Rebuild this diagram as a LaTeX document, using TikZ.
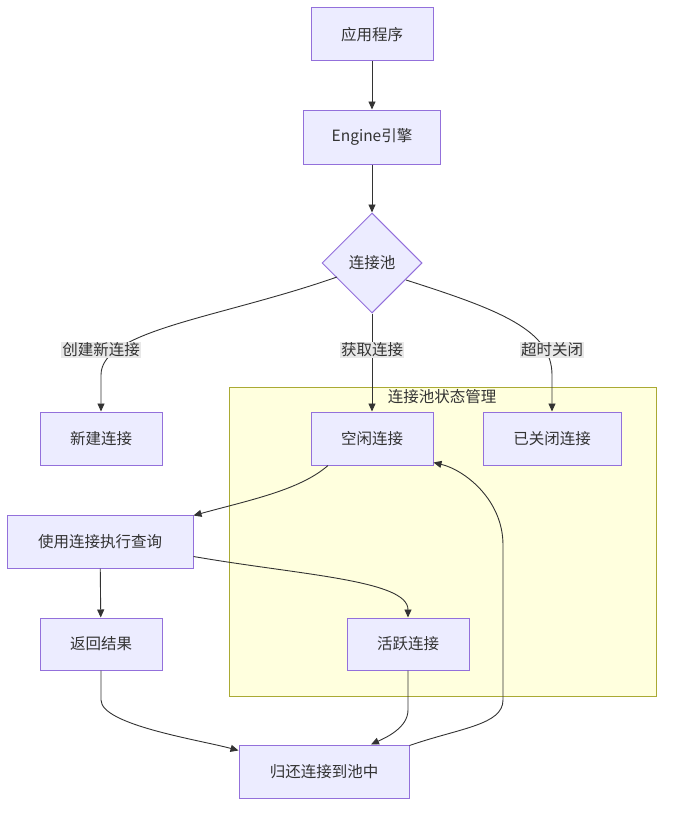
\documentclass[tikz,border=0pt]{standalone}
\usepackage{fontspec}
\setmainfont{Noto Sans CJK SC}
\usetikzlibrary{arrows.meta,shapes.geometric}
\definecolor{nodefill}{HTML}{ECECFF}
\definecolor{nodeline}{HTML}{9370DB}
\definecolor{clfill}{HTML}{FFFFDE}
\definecolor{clline}{HTML}{AAAA33}
\definecolor{edge}{HTML}{333333}
\definecolor{lblbg}{HTML}{E8E8E8}
\tikzset{
  txt/.style={text=edge, font=\fontsize{15.5}{18}\selectfont},
  box/.style={draw=nodeline, fill=nodefill, line width=1pt, inner sep=0pt, txt},
  dia/.style={diamond, draw=nodeline, fill=nodefill, line width=1pt, inner sep=0pt,
    minimum width=100pt, minimum height=100pt, txt},
  conn/.style={draw=edge, line width=0.9pt, -{Triangle[length=8pt,width=7pt]}},
  lbl/.style={fill=lblbg, inner sep=1pt, txt},
}
\begin{document}
\begin{tikzpicture}[x=1pt,y=-1pt]
\useasboundingbox (0,0) rectangle (672,816);
% cluster
\node[draw=clline, fill=clfill, line width=1pt, minimum width=427pt, minimum height=309pt, inner sep=0pt] (cl) at (442.5,541.5) {};
\node[txt] (cltitle) at (442,397) {连接池状态管理};
% nodes
\node[box, minimum width=122pt, minimum height=53pt] (app) at (372,34.5) {应用程序};
\node[box, minimum width=137pt, minimum height=54pt] (eng) at (372,137) {Engine引擎};
\node[dia] (pool) at (372,263) {连接池};
\node[box, minimum width=122pt, minimum height=53pt] (new) at (101,438.5) {新建连接};
\node[box, minimum width=122pt, minimum height=53pt] (idle) at (372,438.5) {空闲连接};
\node[box, minimum width=138pt, minimum height=53pt] (closed) at (552,438.5) {已关闭连接};
\node[box, minimum width=186pt, minimum height=53pt] (use) at (100,541.5) {使用连接执行查询};
\node[box, minimum width=122pt, minimum height=52pt] (ret) at (101,644) {返回结果};
\node[box, minimum width=122pt, minimum height=52pt] (act) at (408,644) {活跃连接};
\node[box, minimum width=170pt, minimum height=53pt] (back) at (324,771.5) {归还连接到池中};
% edges
\draw[conn] (app) -- (eng);
\draw[conn] (eng) -- (pool);
\coordinate (pl) at (337,277);
\coordinate (pr) at (406,280);
\draw[conn] (pl) .. controls (220,318) and (101,330) .. (101,375) -- (new.north);
\draw[conn] (pool) -- (idle);
\draw[conn] (pr) .. controls (500,310) and (552,330) .. (552,375) -- (closed.north);
\node[lbl] (l1) at (101,350) {创建新连接};
\node[lbl] (l2) at (372,350) {获取连接};
\node[lbl] (l3) at (552,350) {超时关闭};
\draw[conn] ([xshift=-44pt]idle.south) .. controls (300,490) and (250,500) .. ([yshift=-1pt]use.north east);
\draw[conn] ([yshift=-15pt]use.east) .. controls (300,575) and (408,580) .. (act.north);
\draw[conn] (use) -- (ret);
\draw[conn] (ret.south) -- (101,700) .. controls (101,725) and (200,740) .. ([yshift=-6pt]back.north west);
\draw[conn] (act.south) -- (408,710) .. controls (408,728) and (385,738) .. ([xshift=47pt]back.north);
\draw[conn] ([yshift=-1pt]back.north east) .. controls (460,728) and (503,725) .. (503,700) -- (503,545) .. controls (503,500) and (465,470) .. ([yshift=3pt]idle.south east);
\end{tikzpicture}
\end{document}
